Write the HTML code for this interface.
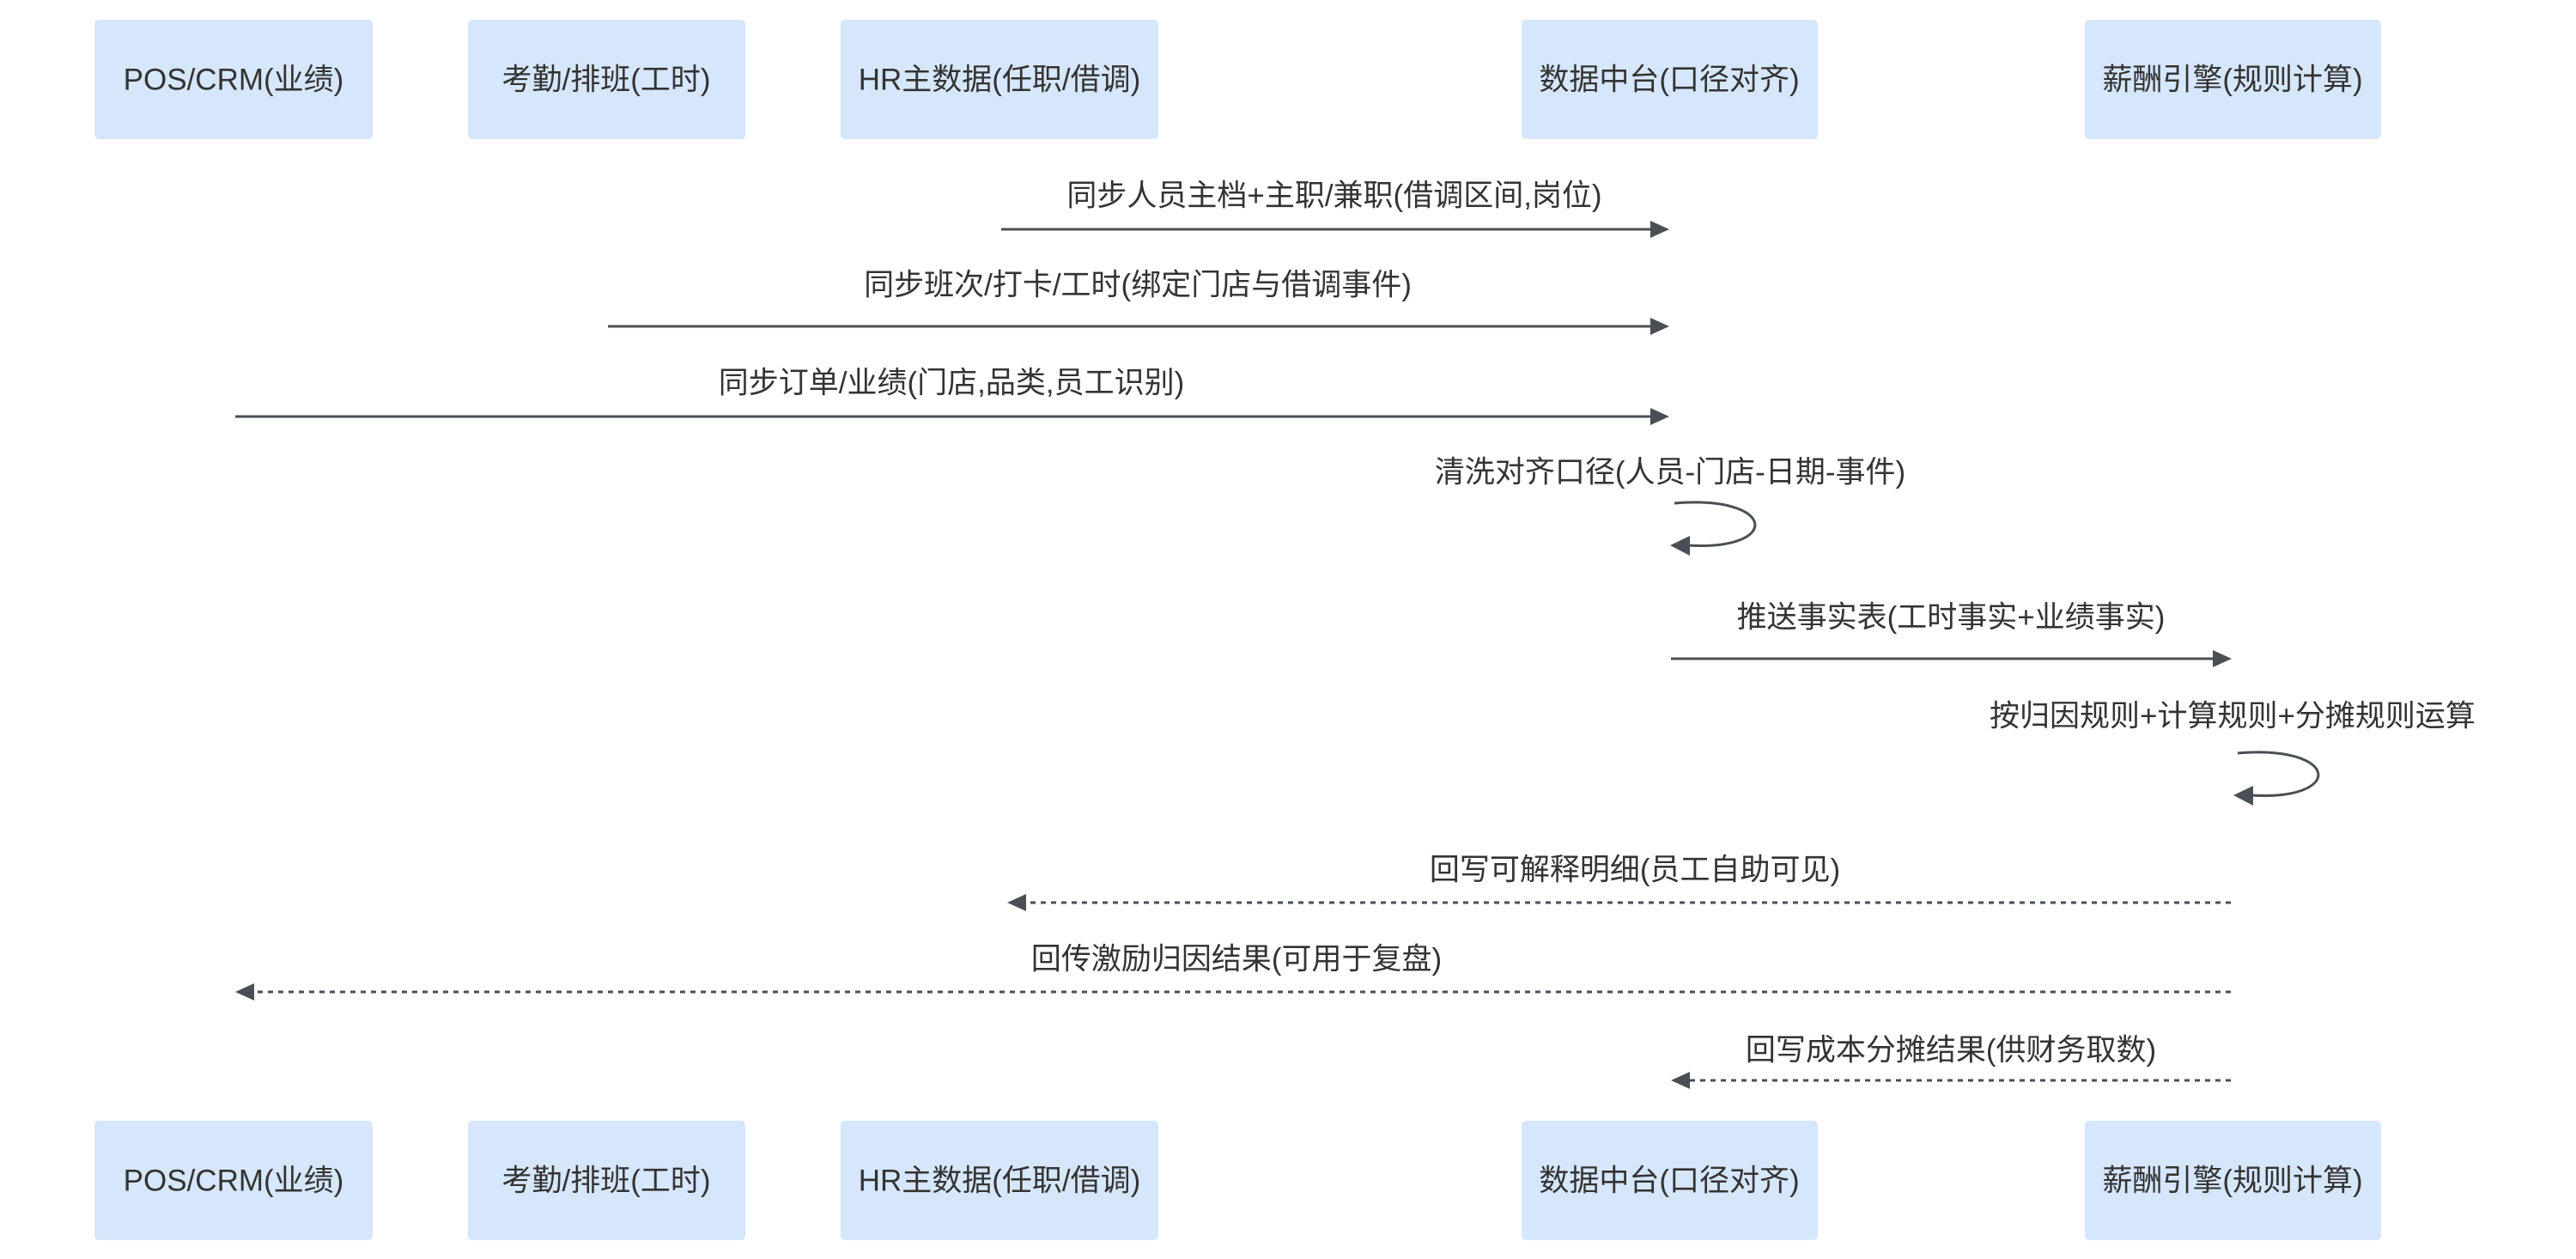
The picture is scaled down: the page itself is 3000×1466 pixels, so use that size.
<!DOCTYPE html>
<html><head><meta charset="utf-8"><style>
html,body{margin:0;padding:0;background:#fff;width:3000px;height:1466px;overflow:hidden}
text{font-family:"Liberation Sans","Noto Sans CJK SC",sans-serif;font-size:35px;fill:#333}
</style></head><body>
<svg width="3000" height="1466" viewBox="0 0 3000 1466" xmlns="http://www.w3.org/2000/svg">
<g fill="#d6e6fb">
<rect x="110" y="23" width="324" height="139" rx="5"/>
<rect x="545" y="23" width="323" height="139" rx="5"/>
<rect x="979" y="23" width="370" height="139" rx="5"/>
<rect x="1772" y="23" width="345" height="139" rx="5"/>
<rect x="2428" y="23" width="345" height="139" rx="5"/>
<rect x="110" y="1305" width="324" height="139" rx="5"/>
<rect x="545" y="1305" width="323" height="139" rx="5"/>
<rect x="979" y="1305" width="370" height="139" rx="5"/>
<rect x="1772" y="1305" width="345" height="139" rx="5"/>
<rect x="2428" y="1305" width="345" height="139" rx="5"/>
</g>
<g text-anchor="middle" dominant-baseline="central">
<text x="272" y="93">POS/CRM(业绩)</text>
<text x="706" y="93">考勤/排班(工时)</text>
<text x="1164" y="93">HR主数据(任职/借调)</text>
<text x="1944" y="93">数据中台(口径对齐)</text>
<text x="2600" y="93">薪酬引擎(规则计算)</text>
<text x="272" y="1375">POS/CRM(业绩)</text>
<text x="706" y="1375">考勤/排班(工时)</text>
<text x="1164" y="1375">HR主数据(任职/借调)</text>
<text x="1944" y="1375">数据中台(口径对齐)</text>
<text x="2600" y="1375">薪酬引擎(规则计算)</text>

<text x="1554" y="228">同步人员主档+主职/兼职(借调区间,岗位)</text>
<text x="1325" y="332">同步班次/打卡/工时(绑定门店与借调事件)</text>
<text x="1108" y="446">同步订单/业绩(门店,品类,员工识别)</text>
<text x="1945" y="550">清洗对齐口径(人员-门店-日期-事件)</text>
<text x="2272" y="719">推送事实表(工时事实+业绩事实)</text>
<text x="2600" y="834">按归因规则+计算规则+分摊规则运算</text>
<text x="1904" y="1013">回写可解释明细(员工自助可见)</text>
<text x="1440" y="1117">回传激励归因结果(可用于复盘)</text>
<text x="2272" y="1223">回写成本分摊结果(供财务取数)</text>
</g>
<g stroke="#4a4f55" stroke-width="3" fill="none">
<line x1="1166" y1="267" x2="1926" y2="267"/>
<line x1="708" y1="380" x2="1926" y2="380"/>
<line x1="274" y1="485" x2="1926" y2="485"/>
<path d="M1950 586 C2070 576 2075 642 1965 635"/>
<line x1="1946" y1="767" x2="2580" y2="767"/>
<path d="M2606 877 C2726 867 2731 933 2621 926"/>
<g stroke-dasharray="6,6">
<line x1="2598" y1="1051" x2="1190" y2="1051"/>
<line x1="2598" y1="1155" x2="292" y2="1155"/>
<line x1="2598" y1="1258" x2="1964" y2="1258"/>
</g>
</g>
<g fill="#4a4f55">
<polygon points="1944,267 1922,257 1922,277"/>
<polygon points="1944,380 1922,370 1922,390"/>
<polygon points="1944,485 1922,475 1922,495"/>
<polygon points="1945,635 1968,624 1968,647"/>
<polygon points="2599,767 2577,757 2577,777"/>
<polygon points="2601,926 2624,915 2624,938"/>
<polygon points="1173,1051 1195,1041 1195,1061"/>
<polygon points="274,1155 296,1145 296,1165"/>
<polygon points="1946,1258 1968,1248 1968,1268"/>
</g>
</svg>
</body></html>
